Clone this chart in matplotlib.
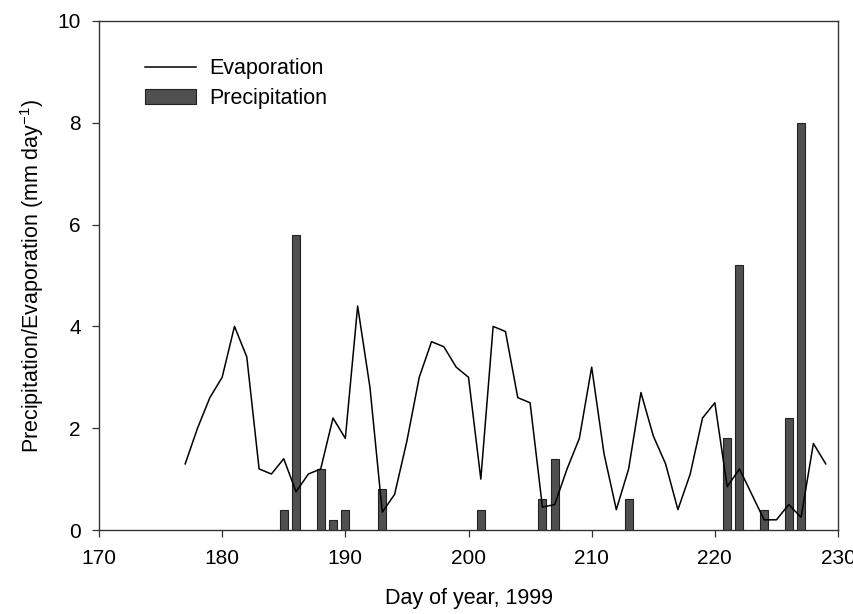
import matplotlib
matplotlib.use("Agg")
import matplotlib.pyplot as plt

plt.rcParams['font.family'] = ['Liberation Sans', 'DejaVu Sans']

evap_days = list(range(177, 230))
evap_vals = [1.3, 2.0, 2.6, 3.0, 4.0, 3.4, 1.2, 1.1, 1.4, 0.75,
             1.1, 1.2, 2.2, 1.8, 4.4, 2.8, 0.35, 0.7, 1.75, 3.0,
             3.7, 3.6, 3.2, 3.0, 1.0, 4.0, 3.9, 2.6, 2.5, 0.45,
             0.5, 1.2, 1.8, 3.2, 1.5, 0.4, 1.2, 2.7, 1.85, 1.3,
             0.4, 1.1, 2.2, 2.5, 0.85, 1.2, 0.7, 0.2, 0.2, 0.5,
             0.25, 1.7, 1.3]

precip_days = [185, 186, 188, 189, 190, 193, 201, 206, 207, 213, 221, 222, 224, 226, 227]
precip_vals = [0.4, 5.8, 1.2, 0.2, 0.4, 0.8, 0.4, 0.6, 1.4, 0.6, 1.8, 5.2, 0.4, 2.2, 8.0]

x_ticks = [170, 180, 190, 200, 210, 220, 230]
y_ticks = [0, 2, 4, 6, 8, 10]

fig = plt.figure(figsize=(8.54, 6.14), dpi=100)
ax = fig.add_axes([0.1159, 0.1368, 0.8654, 0.829])

ax.bar(precip_days, precip_vals, width=0.65, color='#505050', edgecolor='#222222',
       linewidth=0.8, label='Precipitation', zorder=2)
ax.plot(evap_days, evap_vals, color='black', linewidth=1.1, label='Evaporation', zorder=3)

ax.set_xlim(170, 230)
ax.set_ylim(0, 10)
ax.set_xticks(x_ticks)
ax.set_yticks(y_ticks)
ax.tick_params(direction='out', length=5, width=0.9, labelsize=15, color='#333333')
ax.tick_params(axis='x', pad=9)
ax.tick_params(axis='y', pad=8)
for s in ax.spines.values():
    s.set_linewidth(1.0)
    s.set_color('#333333')

ax.set_xlabel('Day of year, 1999', fontsize=15.5, labelpad=14)
ax.set_ylabel('Precipitation/Evaporation (mm day$^{\\mathregular{-1}}$)', fontsize=15.5, labelpad=8)

handles, labels = ax.get_legend_handles_labels()
order = [labels.index('Evaporation'), labels.index('Precipitation')]
ax.legend([handles[i] for i in order], [labels[i] for i in order],
          loc='upper left', bbox_to_anchor=(0.062, 0.927), frameon=False,
          borderpad=0, borderaxespad=0,
          fontsize=15.5, handlelength=2.4, handletextpad=0.6, labelspacing=0.42)

fig.savefig('out.png', dpi=100)
